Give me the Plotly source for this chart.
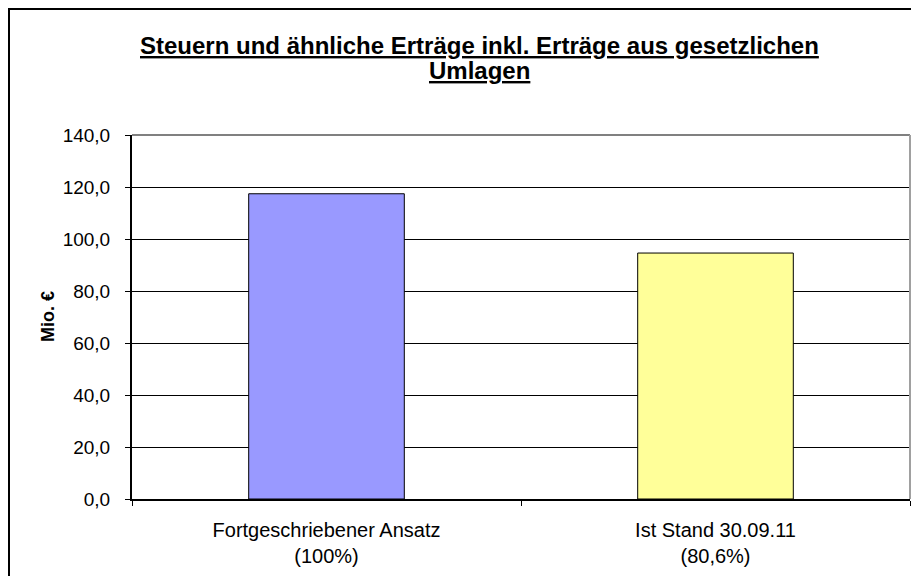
import plotly.graph_objects as go

categories = ["Fortgeschriebener Ansatz<br>(100%)", "Ist Stand 30.09.11<br>(80,6%)"]
values = [117.4, 94.6]
bar_colors = ["#9999FF", "#FFFF99"]
title_lines = ["Steuern und ähnliche Erträge inkl. Erträge aus gesetzlichen", "Umlagen"]
y_title = "Mio. €"
y_ticks = [0, 20, 40, 60, 80, 100, 120, 140]

FONT = "Liberation Sans, Arial, sans-serif"
OFF = 8  # page body margin
W, H = 919 - 2 * OFF, 584 - 2 * OFF
# plot area in page pixels: x 132..910, y 135..499
L = 132 - OFF
T = 135 - OFF
R = W - (910 - OFF)
B = H - (499 - OFF)
pw = W - L - R
ph = H - T - B

def px_x(x):
    return (x - OFF - L) / pw

def px_y(y):
    return (H - B - (y - OFF)) / ph

fig = go.Figure()
fig.add_trace(go.Bar(
    x=categories, y=values,
    marker=dict(color=bar_colors, line=dict(color="black", width=1)),
    hoverinfo="skip",
))

fig.update_layout(
    width=W, height=H,
    margin=dict(l=L, r=R, t=T, b=B),
    paper_bgcolor="white", plot_bgcolor="white",
    separators=",.",
    bargap=0.6,
    showlegend=False,
    font=dict(family=FONT, color="black", size=19),
)
fig.update_yaxes(
    range=[0, 140], tickvals=y_ticks, tickformat=".1f",
    showgrid=True, gridcolor="black", gridwidth=1,
    showline=True, linecolor="black", linewidth=2,
    ticks="outside", ticklen=5, tickcolor="black", tickwidth=1,
    ticklabelstandoff=11,
    tickfont=dict(size=19, family=FONT),
    zeroline=False,
)
fig.update_xaxes(
    showline=True, linecolor="black", linewidth=2,
    ticks="outside", tickson="boundaries", ticklen=5, tickcolor="black", tickwidth=1,
    ticklabelstandoff=12,
    tickfont=dict(size=20, family=FONT),
    showgrid=False,
)

shapes = [
    dict(type="line", xref="paper", yref="paper", x0=0, x1=1, y0=1, y1=1,
         line=dict(color="#808080", width=2)),
    dict(type="line", xref="paper", yref="paper", x0=1, x1=1, y0=0, y1=1,
         line=dict(color="#a0a0a0", width=2)),
    dict(type="rect", xref="paper", yref="paper",
         x0=px_x(OFF + 1), x1=px_x(960), y0=px_y(620), y1=px_y(OFF + 1),
         line=dict(color="black", width=2), fillcolor="rgba(0,0,0,0)", layer="below"),
]
fig.update_layout(shapes=shapes)

annotations = [
    dict(text="<b><u>" + title_lines[0] + "</u></b>", x=px_x(479), y=px_y(45),
         xref="paper", yref="paper", showarrow=False, xanchor="center", yanchor="middle",
         font=dict(size=24, family=FONT)),
    dict(text="<b><u>" + title_lines[1] + "</u></b>", x=px_x(479), y=px_y(71),
         xref="paper", yref="paper", showarrow=False, xanchor="center", yanchor="middle",
         font=dict(size=24, family=FONT)),
    dict(text="<b>" + y_title + "</b>", x=px_x(48), y=0.5, textangle=-90,
         xref="paper", yref="paper", showarrow=False, xanchor="center", yanchor="middle",
         font=dict(size=18, family=FONT)),
]
fig.update_layout(annotations=annotations)

fig.write_html("out.html")
